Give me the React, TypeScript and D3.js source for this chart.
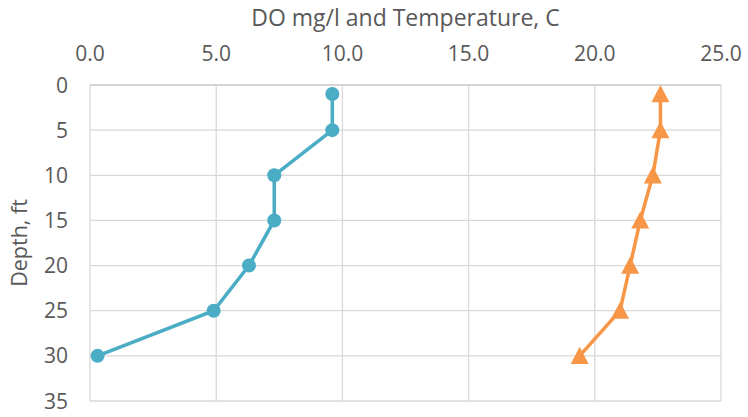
import React from 'react';
import * as d3 from 'd3';

// depth (ft) and readings
const depths = [1, 5, 10, 15, 20, 25, 30];
const doValues = [9.6, 9.6, 7.3, 7.3, 6.3, 4.9, 0.3];
const tempValues = [22.6, 22.6, 22.3, 21.8, 21.4, 21.0, 19.4];
const xTicks = [0, 5, 10, 15, 20, 25];
const yTicks = [0, 5, 10, 15, 20, 25, 30, 35];

const W = 748;
const H = 417;
const margin = { top: 85, right: 27, bottom: 16, left: 90 };
const font = '"Open Sans", Lato, sans-serif';
const textColor = '#595959';
const gridColor = '#d9d9d9';
const doColor = '#4BACC6';
const tempColor = '#F79646';

const App: React.FC = () => {
    const x = d3.scaleLinear().domain([0, 25]).range([margin.left, W - margin.right]);
    const y = d3.scaleLinear().domain([0, 35]).range([margin.top, H - margin.bottom]);

    const line = d3
        .line<[number, number]>()
        .x((d) => x(d[0]))
        .y((d) => y(d[1]));

    const doPts = depths.map((dep, i) => [doValues[i], dep] as [number, number]);
    const tempPts = depths.map((dep, i) => [tempValues[i], dep] as [number, number]);

    const tri = (cx: number, cy: number) => {
        const s = 9;
        return `M${cx},${cy - s} L${cx + s},${cy + s * 0.9} L${cx - s},${cy + s * 0.9} Z`;
    };

    return (
        <svg
            width={W}
            height={H}
            style={{ position: 'absolute', left: 0, top: 0, background: '#fff' }}
        >
            <text
                x={(x(0) + x(25)) / 2}
                y={26}
                textAnchor="middle"
                fontFamily={font}
                fontSize={23}
                fill={textColor}
            >
                DO mg/l and Temperature, C
            </text>
            {xTicks.map((t) => (
                <g key={'x' + t}>
                    <line
                        x1={x(t)}
                        x2={x(t)}
                        y1={y(0)}
                        y2={y(35)}
                        stroke={gridColor}
                        strokeWidth={1.3}
                    />
                    <text
                        x={x(t)}
                        y={61}
                        textAnchor="middle"
                        fontFamily={font}
                        fontSize={21}
                        fill={textColor}
                    >
                        {t.toFixed(1)}
                    </text>
                </g>
            ))}
            {yTicks.map((t) => (
                <g key={'y' + t}>
                    <line
                        x1={x(0)}
                        x2={x(25)}
                        y1={y(t)}
                        y2={y(t)}
                        stroke={t === 0 ? '#c8c8c8' : gridColor}
                        strokeWidth={1.3}
                    />
                    <text
                        x={68}
                        y={y(t)}
                        dy="0.36em"
                        textAnchor="end"
                        fontFamily={font}
                        fontSize={21}
                        fill={textColor}
                    >
                        {t}
                    </text>
                </g>
            ))}
            <text
                transform={`translate(27,${(y(0) + y(35)) / 2}) rotate(-90)`}
                textAnchor="middle"
                fontFamily={font}
                fontSize={21.5}
                fill={textColor}
            >
                Depth, ft
            </text>
            <path d={line(doPts) || ''} fill="none" stroke={doColor} strokeWidth={3.5} />
            {doPts.map((p, i) => (
                <circle key={'d' + i} cx={x(p[0])} cy={y(p[1])} r={7} fill={doColor} />
            ))}
            <path d={line(tempPts) || ''} fill="none" stroke={tempColor} strokeWidth={3.5} />
            {tempPts.map((p, i) => (
                <path key={'t' + i} d={tri(x(p[0]), y(p[1]))} fill={tempColor} />
            ))}
        </svg>
    );
};

export default App;
